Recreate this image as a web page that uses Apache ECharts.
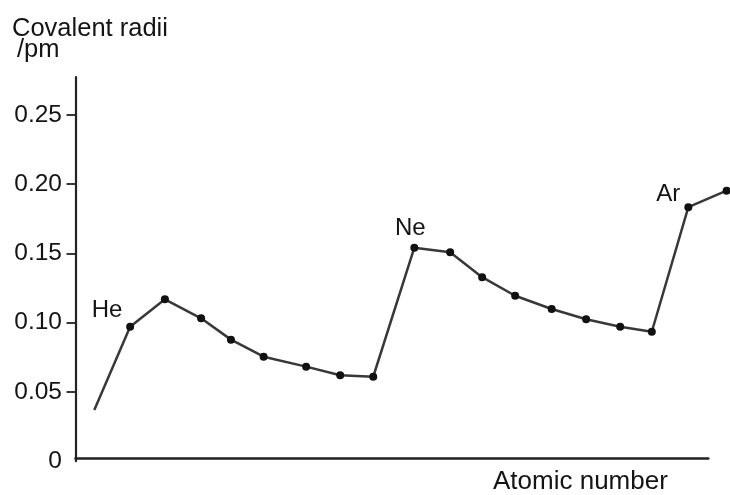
<!DOCTYPE html>
<html>
<head>
<meta charset="utf-8">
<script src="https://cdn.jsdelivr.net/npm/echarts@6/dist/echarts.min.js"></script>
<style>html,body{margin:0;padding:0;background:#fff;}#c{width:730px;height:495px;}</style>
</head>
<body>
<div id="c"></div>
<script>
// Position along the atomic-number axis
var atomicPos = [1.00, 2.02, 3.01, 4.04, 4.89, 5.82, 7.03, 8.00, 8.94, 10.11, 11.13, 12.04, 12.98, 14.02, 15.00, 15.97, 16.87, 17.91, 19.00];
// Covalent radii values
var radii = [0.0370, 0.0971, 0.1169, 0.1032, 0.0878, 0.0755, 0.0683, 0.0621, 0.0610, 0.1542, 0.1509, 0.1329, 0.1195, 0.1099, 0.1025, 0.0971, 0.0935, 0.1834, 0.1953];
// Element labels
var labelIndex = [1, 9, 17];
var labelText = ['He', 'Ne', 'Ar'];
var labelOffset = [[-23, -16], [-4, -19], [-20, -13]];
// Y tick labels
var yTicks = [0, 0.05, 0.10, 0.15, 0.20, 0.25];

var FONT = "'Liberation Sans', Arial, Helvetica, sans-serif";
var TXT = '#141414';

var data = atomicPos.map(function (x, i) {
  var item = { value: [x, radii[i]] };
  if (i === 0) item.symbol = 'none';
  var k = labelIndex.indexOf(i);
  if (k >= 0) {
    item.label = {
      show: true, position: 'inside', formatter: labelText[k],
      offset: labelOffset[k], fontSize: 24, fontFamily: FONT, color: TXT
    };
  }
  return item;
});

var chart = echarts.init(document.getElementById('c'), null, { renderer: 'canvas' });
chart.setOption({
  animation: false,
  backgroundColor: '#fff',
  grid: [
    { left: 75.5, right: 0, top: 77, bottom: 33.75, containLabel: false },
    { left: 75.5, right: 21.7, top: 77, bottom: 33.75, containLabel: false }
  ],
  xAxis: [
    {
      gridIndex: 0, type: 'value', min: 0.465, max: 19.096, show: false,
      axisLine: { show: false }, axisTick: { show: false }, axisLabel: { show: false }, splitLine: { show: false }
    },
    {
      gridIndex: 1, type: 'value', min: 0.465, max: 18.478, offset: -3.5,
      axisLine: { show: true, onZero: false, lineStyle: { color: '#222', width: 2.5 } },
      axisTick: { show: false }, axisLabel: { show: false }, splitLine: { show: false }
    }
  ],
  yAxis: [
    {
      gridIndex: 0, type: 'value', min: 0, max: 0.2774, interval: 0.05,
      axisLine: { show: true, lineStyle: { color: '#222', width: 2.2 } },
      axisTick: { show: true, inside: false, length: 9, customValues: [0.05, 0.10, 0.15, 0.20, 0.25],
        lineStyle: { color: '#222', width: 1.8 } },
      axisLabel: {
        show: true, customValues: yTicks, margin: 13.5,
        fontSize: 24.5, fontFamily: FONT, color: TXT,
        formatter: function (v) { return v === 0 ? '0' : v.toFixed(2); }
      },
      splitLine: { show: false }
    },
    {
      gridIndex: 1, type: 'value', min: 0, max: 1, show: false
    }
  ],
  graphic: [
    { type: 'text', left: 12, top: 16, style: { text: 'Covalent radii', font: '25.5px ' + FONT, fill: TXT } },
    { type: 'text', left: 17, top: 37, style: { text: '/pm', font: '25.5px ' + FONT, fill: TXT } },
    { type: 'text', left: 493, top: 469, style: { text: 'Atomic number', font: '26px ' + FONT, fill: TXT } }
  ],
  series: [{
    type: 'line', xAxisIndex: 0, yAxisIndex: 0, data: data, clip: false,
    symbol: 'circle', symbolSize: 8,
    itemStyle: { color: '#111' },
    lineStyle: { color: '#383838', width: 2.5 }
  }]
});
</script>
</body>
</html>
